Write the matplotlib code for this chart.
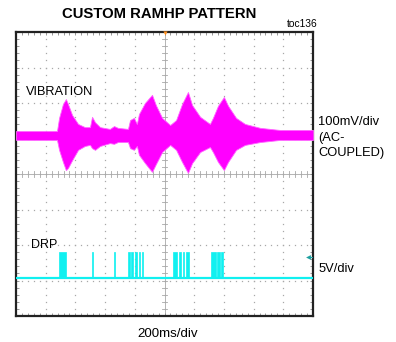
import numpy as np
import matplotlib
matplotlib.use("Agg")
import matplotlib.pyplot as plt

plt.rcParams['font.family'] = ['Liberation Sans', 'DejaVu Sans']

# screen is 10 x 8 divisions, 200ms/div horizontally
# vibration envelope (divisions)
vib_x = [0.00, 1.38, 1.45, 1.58, 1.68, 1.75, 1.89, 2.09, 2.32, 2.49, 2.56, 2.66, 2.83,
         3.16, 3.30, 3.43, 3.77, 3.84, 3.97, 4.07, 4.14, 4.34, 4.58, 4.71, 4.92, 5.19,
         5.39, 5.59, 5.79, 5.93, 6.20, 6.53, 6.63, 6.80, 7.00, 7.14, 7.41, 7.71, 8.22,
         8.89, 10.0]
vib_top = [5.21, 5.21, 5.58, 5.97, 6.11, 5.97, 5.66, 5.41, 5.32, 5.32, 5.61, 5.46, 5.32,
           5.27, 5.35, 5.30, 5.27, 5.52, 5.58, 5.41, 5.69, 6.00, 6.23, 5.94, 5.58, 5.38,
           5.52, 5.97, 6.31, 5.94, 5.61, 5.41, 5.58, 5.92, 6.17, 5.92, 5.58, 5.41, 5.30,
           5.24, 5.24]
vib_bot = [4.96, 4.96, 4.68, 4.34, 4.11, 4.17, 4.39, 4.68, 4.79, 4.82, 4.73, 4.68, 4.79,
           4.87, 4.85, 4.90, 4.90, 4.73, 4.68, 4.79, 4.54, 4.31, 4.06, 4.28, 4.62, 4.82,
           4.68, 4.34, 4.03, 4.31, 4.62, 4.76, 4.62, 4.34, 4.11, 4.34, 4.68, 4.82, 4.90,
           4.96, 4.96]

# DRP pulses (start, end) in divisions
drp_start = [1.45, 2.56, 3.30, 3.78, 3.88, 4.02, 4.13, 4.23, 5.30, 5.50, 5.61, 5.71, 6.56, 6.78, 6.90]
drp_end = [1.67, 2.58, 3.33, 3.84, 3.93, 4.08, 4.18, 4.29, 5.43, 5.55, 5.66, 5.81, 6.73, 6.87, 6.96]
drp_low = 1.06
drp_high = 1.80

W, H = 396, 342
fig = plt.figure(figsize=(W / 100, H / 100), dpi=100)
ax = fig.add_axes([16 / W, 1 - 316 / H, 297 / W, 284 / H])
ax.set_xlim(0, 10)
ax.set_ylim(0, 8)

grid_c = '#a8a8a8'
# dotted graticule
for k in range(1, 10):
    ax.plot(np.full(41, k), np.arange(41) / 5, ls='none', marker='s', ms=0.9, mew=0, color=grid_c, zorder=1)
for k in range(1, 8):
    ax.plot(np.arange(51) / 5, np.full(51, k), ls='none', marker='s', ms=0.9, mew=0, color=grid_c, zorder=1)
# centre lines with small ticks
ax.axvline(5, color=grid_c, lw=0.6, zorder=1)
ax.axhline(4, color=grid_c, lw=0.6, zorder=1)
for t in np.arange(41) / 5:
    ax.plot([4.9, 5.1], [t, t], color=grid_c, lw=0.6, zorder=1)
for t in np.arange(51) / 5:
    ax.plot([t, t], [3.92, 4.08], color=grid_c, lw=0.6, zorder=1)

ax.set_xticks(np.arange(51) / 5)
ax.set_yticks(np.arange(41) / 5)
ax.tick_params(direction='in', length=2, width=0.6, color='#888888',
               top=True, right=True, labelbottom=False, labelleft=False)
for s in ax.spines.values():
    s.set_linewidth(1.6)
    s.set_color('#222222')

# vibration trace
ax.fill_between(vib_x, vib_bot, vib_top, color='#ff00ff', lw=0.6, edgecolor='#ff66ff', zorder=3)

# DRP trace
ax.plot([0, 10], [drp_low, drp_low], color='#10f0f0', lw=1.6, zorder=3)
widths = [e - s for s, e in zip(drp_start, drp_end)]
ax.bar(drp_start, drp_high - drp_low, width=widths, bottom=drp_low, align='edge',
       color='#10f0f0', edgecolor='#10f0f0', lw=0.5, zorder=3)

# markers
ax.plot([5], [7.97], marker='v', ms=3, color='#ff9020', mew=0, zorder=4, clip_on=False)
ax.plot([9.82, 10.0], [1.66, 1.66], color='#20a0a0', lw=0.8, zorder=4)
ax.plot([9.84], [1.66], marker='<', ms=3.5, color='#20a0a0', mew=0, zorder=4)


def ftext(x, y, s, **kw):
    fig.text(x / W, 1 - y / H, s, va='baseline', **kw)


ftext(159, 18, 'CUSTOM RAMHP PATTERN', ha='center', fontsize=10.7, fontweight='bold')
ftext(287, 27, 'toc136', ha='left', fontsize=7.4)
ftext(26, 95, 'VIBRATION', ha='left', fontsize=9.2)
ftext(318, 125, '100mV/div', ha='left', fontsize=9.3)
ftext(318, 141, '(AC-', ha='left', fontsize=9.3)
ftext(318, 156, 'COUPLED)', ha='left', fontsize=9.3)
ftext(31, 248, 'DRP', ha='left', fontsize=9.0)
ftext(319, 272, '5V/div', ha='left', fontsize=9.3)
ftext(168, 337, '200ms/div', ha='center', fontsize=9.6)

fig.savefig('out.png', dpi=100, facecolor='white')
